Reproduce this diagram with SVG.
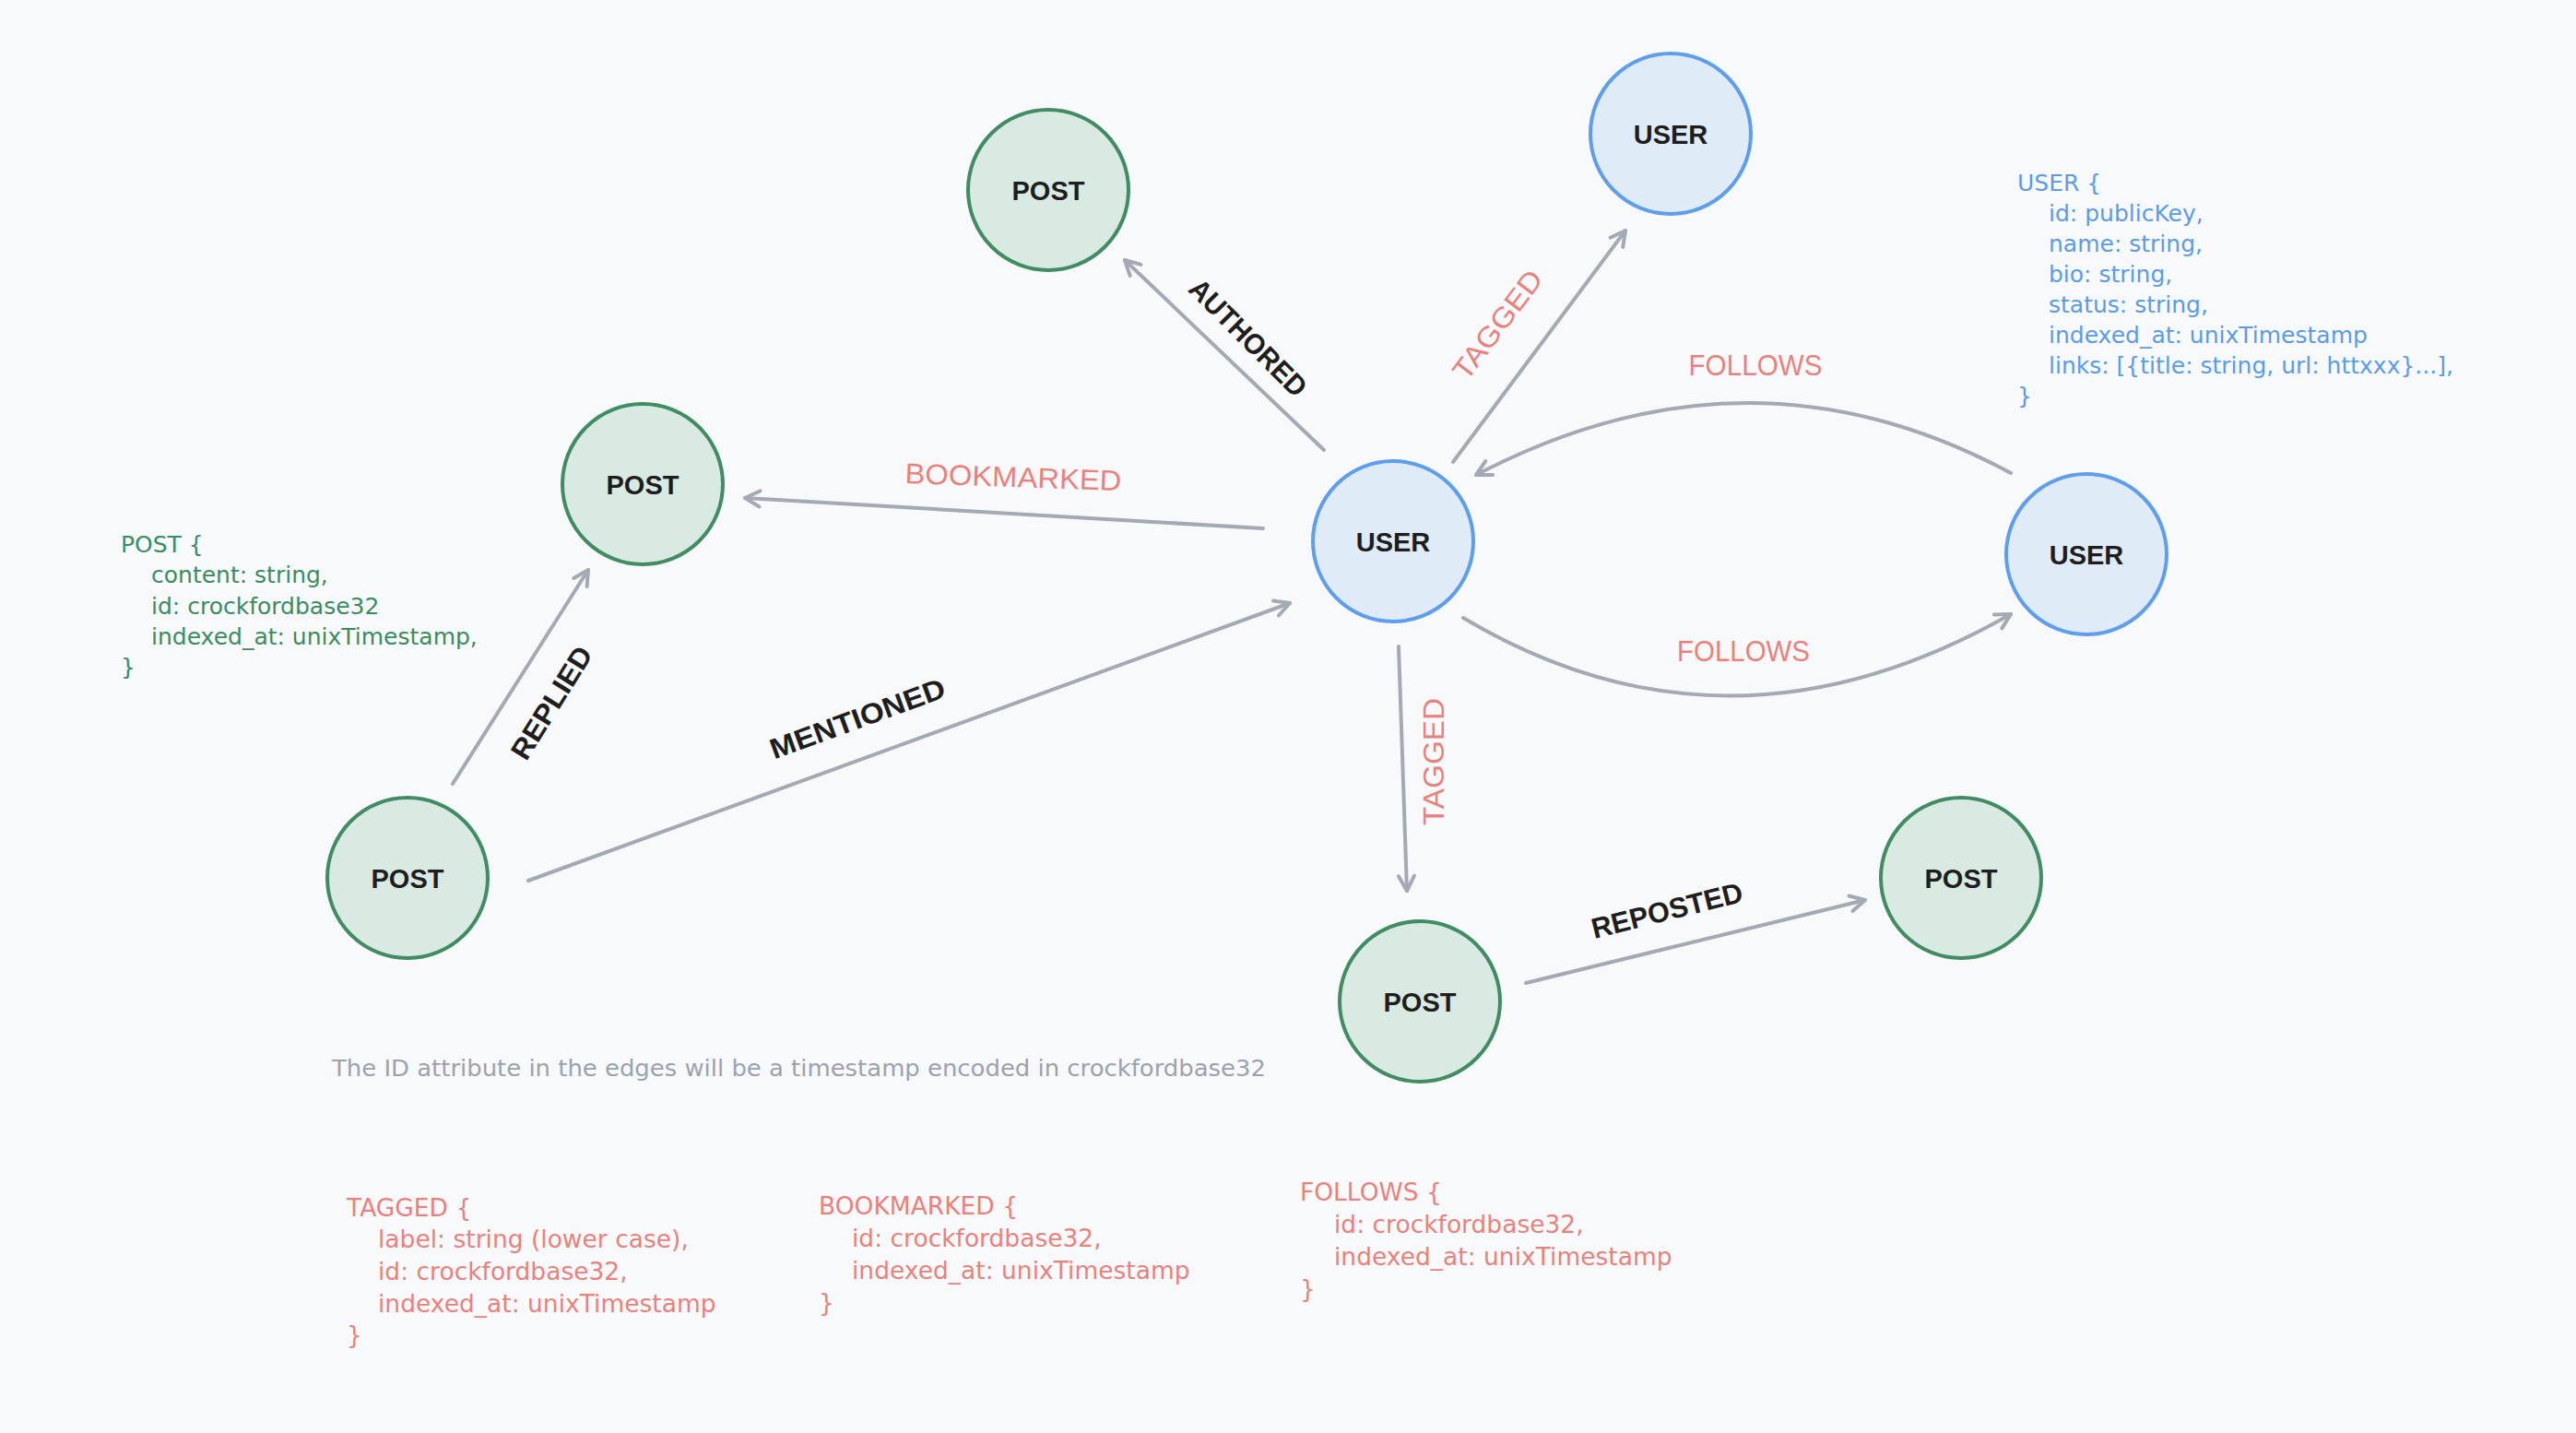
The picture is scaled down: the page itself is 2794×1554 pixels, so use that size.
<svg xmlns="http://www.w3.org/2000/svg" width="2794" height="1554" viewBox="0 0 2794 1554">
<defs>
<style>
.post circle{fill:#d9eae2;stroke:#418c63;stroke-width:4}
.user circle{fill:#e0ebf8;stroke:#5f9eec;stroke-width:4}
.nl{font-family:"Liberation Sans",Arial,sans-serif;font-weight:bold;font-size:29px;fill:#1e1e1e;text-anchor:middle}
.el{font-family:"Liberation Sans",Arial,sans-serif;font-size:31px;text-anchor:middle}
.blk{fill:#1e1e1e;font-weight:bold}
.red{fill:#e9817c}
.edge{fill:none;stroke:#a4aab3;stroke-width:4;stroke-linecap:round;marker-end:url(#arr)}
.code{font-family:"DejaVu Sans",Verdana,sans-serif;font-size:25px}
.code2{font-family:"DejaVu Sans",Verdana,sans-serif;font-size:26.5px;fill:#e9817c}
.note{font-family:"DejaVu Sans",Verdana,sans-serif;font-size:24px;fill:#9ca2ac}
</style>
<marker id="arr" markerUnits="userSpaceOnUse" viewBox="-20 -12 24 24" markerWidth="24" markerHeight="24" refX="0" refY="0" orient="auto" overflow="visible">
<path d="M-16,-8.5 L0,0 L-16,8.5" fill="none" stroke="#a4aab3" stroke-width="4" stroke-linecap="round" stroke-linejoin="round"/>
</marker>
</defs>
<rect width="2794" height="1554" fill="#f8f9fb"/>

<g id="connectors">
<path class="edge" d="M1436,488 L1220,282"/>
<path class="edge" d="M1576,501 L1763,250"/>
<path class="edge" d="M1370,573 L808,540"/>
<path class="edge" d="M573,955 L1399,654"/>
<path class="edge" d="M491,850 L638,618"/>
<path class="edge" d="M2181,513 Q1897,360 1601,515"/>
<path class="edge" d="M1587,670 Q1874,841 2181,666"/>
<path class="edge" d="M1517,701 L1526,966"/>
<path class="edge" d="M1655,1066 L2023,976"/>
</g>

<g id="edge-labels">
<text class="el blk" transform="translate(1354,366) rotate(45)" x="0" y="11" textLength="166" lengthAdjust="spacingAndGlyphs">AUTHORED</text>
<text class="el red" transform="translate(1624,352) rotate(-53)" x="0" y="11" textLength="140" lengthAdjust="spacingAndGlyphs">TAGGED</text>
<text class="el red" transform="translate(1099,517) rotate(2)" x="0" y="11" textLength="235" lengthAdjust="spacingAndGlyphs">BOOKMARKED</text>
<text class="el blk" transform="translate(930,779) rotate(-20)" x="0" y="11" textLength="200" lengthAdjust="spacingAndGlyphs">MENTIONED</text>
<text class="el blk" transform="translate(598,762) rotate(-58)" x="0" y="11" textLength="138" lengthAdjust="spacingAndGlyphs">REPLIED</text>
<text class="el red" transform="translate(1904,396)" x="0" y="11" textLength="145" lengthAdjust="spacingAndGlyphs">FOLLOWS</text>
<text class="el red" transform="translate(1891,706)" x="0" y="11" textLength="144" lengthAdjust="spacingAndGlyphs">FOLLOWS</text>
<text class="el red" transform="translate(1555,826) rotate(-90)" x="0" y="11" textLength="138" lengthAdjust="spacingAndGlyphs">TAGGED</text>
<text class="el blk" transform="translate(1808,987) rotate(-14)" x="0" y="11" textLength="168" lengthAdjust="spacingAndGlyphs">REPOSTED</text>
</g>

<g id="post-top" class="post"><circle cx="1137" cy="206" r="87"/><text class="nl" x="1137" y="217">POST</text></g>
<g id="user-top" class="user"><circle cx="1812" cy="145" r="87"/><text class="nl" x="1812" y="156">USER</text></g>
<g id="post-left" class="post"><circle cx="697" cy="525" r="87"/><text class="nl" x="697" y="536">POST</text></g>
<g id="user-center" class="user"><circle cx="1511" cy="587" r="87"/><text class="nl" x="1511" y="598">USER</text></g>
<g id="user-right" class="user"><circle cx="2263" cy="601" r="87"/><text class="nl" x="2263" y="612">USER</text></g>
<g id="post-bottom-left" class="post"><circle cx="442" cy="952" r="87"/><text class="nl" x="442" y="963">POST</text></g>
<g id="post-bottom-mid" class="post"><circle cx="1540" cy="1086" r="87"/><text class="nl" x="1540" y="1097">POST</text></g>
<g id="post-bottom-right" class="post"><circle cx="2127" cy="952" r="87"/><text class="nl" x="2127" y="963">POST</text></g>

<g id="user-schema" class="code" fill="#5b9be8">
<text x="2188" y="207">USER {</text>
<text x="2222" y="240">id: publicKey,</text>
<text x="2222" y="273">name: string,</text>
<text x="2222" y="306">bio: string,</text>
<text x="2222" y="339">status: string,</text>
<text x="2222" y="372">indexed_at: unixTimestamp</text>
<text x="2222" y="405">links: [{title: string, url: httxxx}...],</text>
<text x="2188" y="438">}</text>
</g>

<g id="post-schema" class="code" fill="#3b8c5f">
<text x="131" y="599">POST {</text>
<text x="164" y="632">content: string,</text>
<text x="164" y="666">id: crockfordbase32</text>
<text x="164" y="699">indexed_at: unixTimestamp,</text>
<text x="131" y="732">}</text>
</g>

<text id="note" class="note" x="360" y="1167" textLength="1013" lengthAdjust="spacingAndGlyphs">The ID attribute in the edges will be a timestamp encoded in crockfordbase32</text>

<g id="tagged-schema" class="code2">
<text x="376" y="1319">TAGGED {</text>
<text x="410" y="1353">label: string (lower case),</text>
<text x="410" y="1388">id: crockfordbase32,</text>
<text x="410" y="1423">indexed_at: unixTimestamp</text>
<text x="376" y="1457">}</text>
</g>

<g id="bookmarked-schema" class="code2">
<text x="888" y="1317">BOOKMARKED {</text>
<text x="924" y="1352">id: crockfordbase32,</text>
<text x="924" y="1387">indexed_at: unixTimestamp</text>
<text x="888" y="1422">}</text>
</g>

<g id="follows-schema" class="code2">
<text x="1410" y="1302">FOLLOWS {</text>
<text x="1447" y="1337">id: crockfordbase32,</text>
<text x="1447" y="1372">indexed_at: unixTimestamp</text>
<text x="1410" y="1407">}</text>
</g>
</svg>
